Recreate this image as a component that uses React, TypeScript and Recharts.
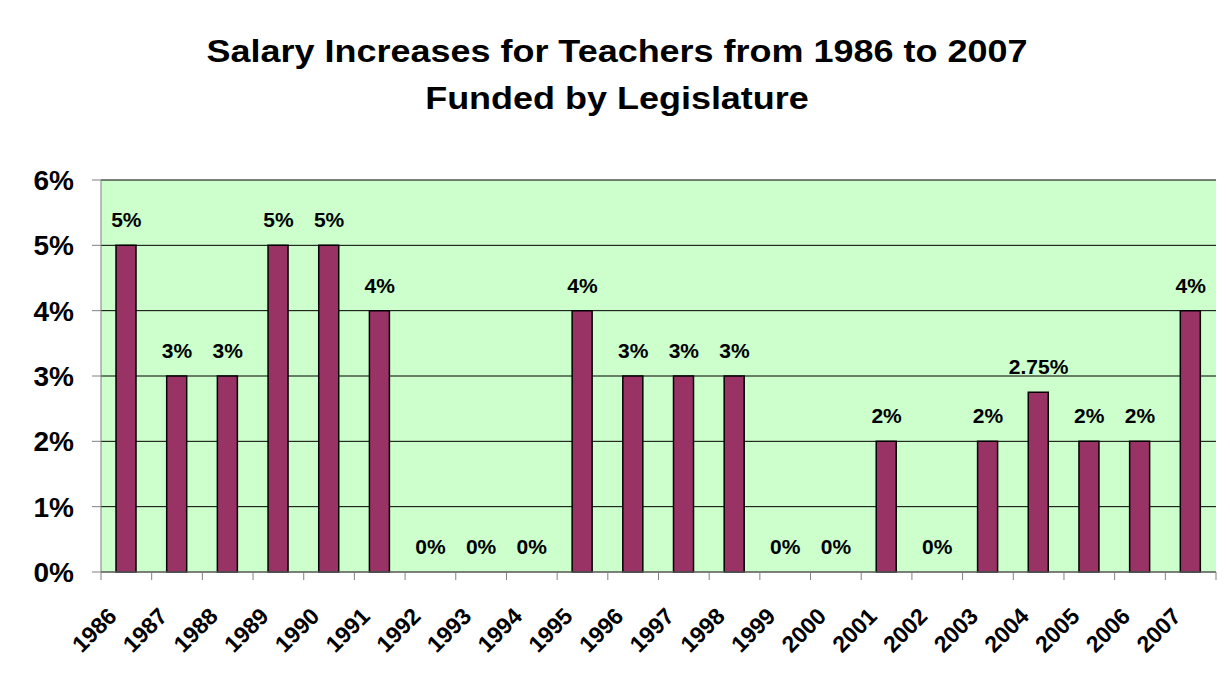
import { ComposedChart, Bar, Line, XAxis, YAxis, CartesianGrid, LabelList } from 'recharts';

const years = [
    '1986', '1987', '1988', '1989', '1990', '1991', '1992', '1993', '1994', '1995', '1996',
    '1997', '1998', '1999', '2000', '2001', '2002', '2003', '2004', '2005', '2006', '2007',
];
const increases = [5, 3, 3, 5, 5, 4, 0, 0, 0, 4, 3, 3, 3, 0, 0, 2, 0, 2, 2.75, 2, 2, 4];
const yTicks = [0, 1, 2, 3, 4, 5, 6];
const titleLines = ['Salary Increases for Teachers from 1986 to 2007', 'Funded by Legislature'];

const data = years.map((year, i) => ({ year, increase: increases[i] }));

const FONT = '"Liberation Sans", Arial, sans-serif';

// label plus Excel-style tick marks on the category boundaries
function YearTick({ x, y, index, payload }: { x: number; y: number; index: number; payload: { value: string; offset: number } }) {
    const axisY = y - 8;
    const half = payload.offset || 0;
    const ax = x - 14;
    const ay = y + 32;
    return (
        <g>
            <line x1={x - half} x2={x - half} y1={axisY} y2={axisY + 8} stroke="#808080" />
            {index === years.length - 1 && (
                <line x1={x + half} x2={x + half} y1={axisY} y2={axisY + 8} stroke="#808080" />
            )}
            <text
                x={ax}
                y={ay}
                transform={`rotate(-45 ${ax} ${ay})`}
                textAnchor="end"
                dominantBaseline="central"
                fontSize={23}
                fontWeight="bold"
                fontFamily={FONT}
                fill="#000"
            >
                {payload.value}
            </text>
        </g>
    );
}

export default function App() {
    return (
        <div style={{ position: 'relative', width: 1230, height: 673, margin: -8, overflow: 'hidden', background: '#fff' }}>
            <div
                style={{
                    position: 'absolute',
                    left: 0,
                    top: 28,
                    width: 1234,
                    textAlign: 'center',
                    fontFamily: FONT,
                    fontWeight: 'bold',
                    fontSize: 31,
                    lineHeight: '47px',
                    color: '#000',
                }}
            >
                {titleLines.map((t) => (
                    <div key={t} style={{ transform: 'scaleX(1.16)' }}>
                        {t}
                    </div>
                ))}
            </div>
            <div style={{ position: 'absolute', left: 0, top: 0 }}>
                <ComposedChart
                    width={1230}
                    height={673}
                    data={data}
                    margin={{ top: 180, right: 14, left: 0, bottom: 0 }}
                    barSize={20}
                >
                    <CartesianGrid vertical={false} stroke="#000" fill="#CCFFCC" fillOpacity={1} />
                    <XAxis
                        dataKey="year"
                        interval={0}
                        height={101}
                        tickLine={false}
                        axisLine={{ stroke: '#808080' }}
                        tick={(props: any) => <YearTick {...props} />}
                    />
                    <YAxis
                        domain={[0, 6]}
                        ticks={yTicks}
                        width={101}
                        tickSize={9}
                        tickMargin={18}
                        axisLine={{ stroke: '#808080' }}
                        tickLine={{ stroke: '#808080' }}
                        tickFormatter={(v: number) => `${v}%`}
                        tick={{ fontSize: 28, fontWeight: 'bold', fill: '#000', fontFamily: FONT }}
                    />
                    <YAxis
                        yAxisId="frame"
                        orientation="right"
                        width={0}
                        tick={false}
                        tickLine={false}
                        axisLine={{ stroke: '#808080' }}
                    />
                    <Bar dataKey="increase" fill="#993366" stroke="#000" strokeWidth={1.5} isAnimationActive={false} />
                    <Line
                        dataKey="increase"
                        stroke="none"
                        dot={false}
                        activeDot={false}
                        legendType="none"
                        isAnimationActive={false}
                    >
                        <LabelList
                            dataKey="increase"
                            position="top"
                            offset={18}
                            formatter={((v: unknown) => `${v}%`) as never}
                            style={{ fontSize: 21, fontWeight: 'bold', fill: '#000', fontFamily: FONT }}
                        />
                    </Line>
                </ComposedChart>
            </div>
            <div style={{ position: 'absolute', zIndex: 10, left: 6, top: 3, width: 1240, height: 2, background: '#000' }} />
            <div style={{ position: 'absolute', zIndex: 10, left: 6, top: 3, width: 2, height: 700, background: '#333' }} />
        </div>
    );
}
